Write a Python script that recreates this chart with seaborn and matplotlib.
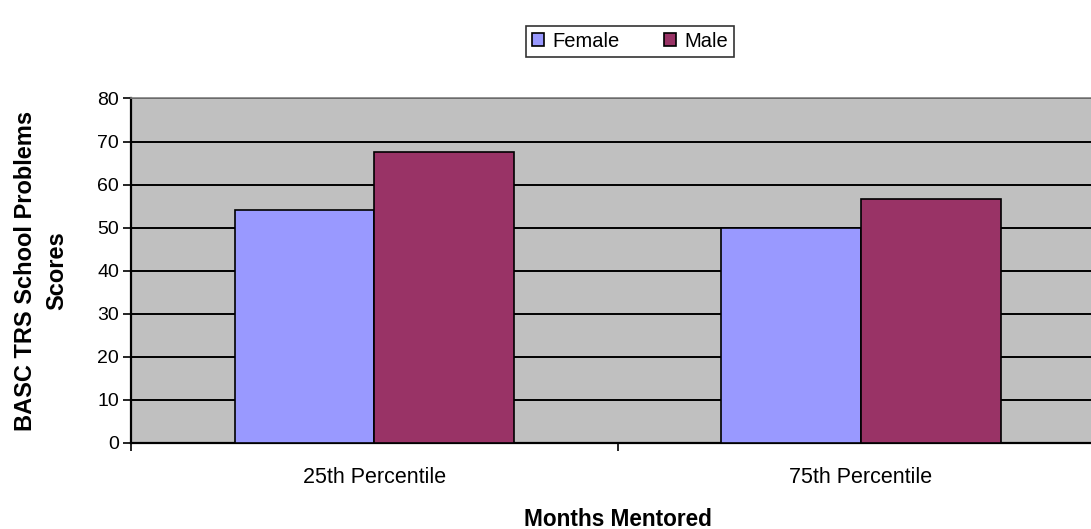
import matplotlib
matplotlib.use("Agg")
import matplotlib.pyplot as plt
import seaborn as sns
import pandas as pd
from matplotlib.ticker import FixedLocator

# data
categories = ["25th Percentile", "75th Percentile"]
groups = ["Female", "Male"]
female_scores = [54.1, 49.9]
male_scores = [67.5, 56.7]

df = pd.DataFrame({
    "month": categories * 2,
    "sex": ["Female"] * 2 + ["Male"] * 2,
    "score": female_scores + male_scores,
})

sns.set_style("white")
plt.rcParams["font.family"] = ["Liberation Sans", "DejaVu Sans"]
plt.rcParams["text.color"] = "black"
plt.rcParams["axes.labelcolor"] = "black"
plt.rcParams["xtick.color"] = "black"
plt.rcParams["ytick.color"] = "black"

fig = plt.figure(figsize=(10.91, 5.29), dpi=100)
# axes runs a little past the right edge like the reference
ax = fig.add_axes([0.1205, 0.1626, 0.891, 0.6513])
ax.set_facecolor("#C0C0C0")

sns.barplot(data=df, x="month", y="score", hue="sex", hue_order=groups,
            palette={"Female": "#9999FF", "Male": "#993366"},
            width=0.576, edgecolor="black", linewidth=1.2, saturation=1,
            ax=ax, zorder=3)

ax.set_xlim(-0.5, 1.5)
ax.set_ylim(0, 80)
ax.set_yticks(range(0, 81, 10))
ax.yaxis.grid(True, color="black", linewidth=1.4, zorder=0)
ax.set_axisbelow(True)

# ticks on category boundaries, labels at centres
ax.xaxis.set_minor_locator(FixedLocator([-0.5, 0.5, 1.5]))
ax.tick_params(axis="x", which="major", length=0, labelsize=15.5, pad=17)
ax.tick_params(axis="x", which="minor", length=6, width=1.2, color="black",
               direction="out")
ax.tick_params(axis="y", length=6, width=1.2, color="black", direction="out",
               labelsize=14, pad=3)
ax.xaxis.set_ticks_position("bottom")
ax.yaxis.set_ticks_position("left")

for side in ["left", "bottom"]:
    ax.spines[side].set_color("black")
    ax.spines[side].set_linewidth(1.6)
for side in ["top", "right"]:
    ax.spines[side].set_color("#808080")
    ax.spines[side].set_linewidth(1.2)

ax.set_xlabel("Months Mentored", fontsize=16.3, fontweight="bold")
ax.xaxis.label.set_va("baseline")
ax.xaxis.set_label_coords(0.5, -0.241)
ax.set_ylabel("BASC TRS School Problems\nScores", fontsize=17,
              fontweight="bold", labelpad=20.5, linespacing=1.5)

leg = ax.legend(loc="center", bbox_to_anchor=(0.5775, 0.922),
                bbox_transform=fig.transFigure, ncol=2, frameon=True,
                fancybox=False, edgecolor="black", fontsize=14.5,
                handlelength=0.6, handleheight=0.6, handletextpad=0.4,
                columnspacing=2.2, borderpad=0.3)
leg.get_frame().set_linewidth(1.2)

fig.savefig("out.png", dpi=100)
